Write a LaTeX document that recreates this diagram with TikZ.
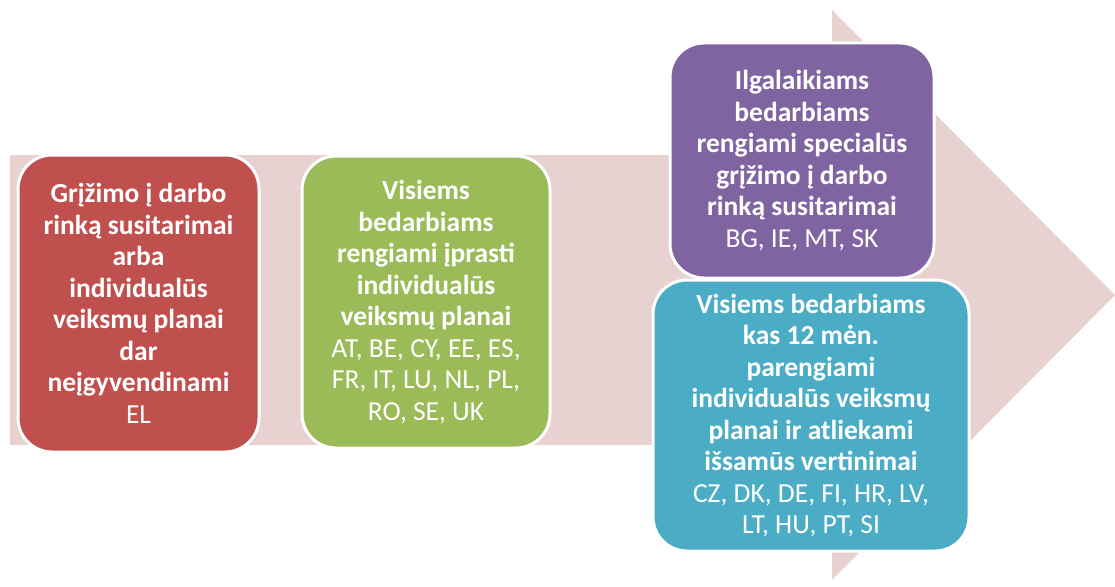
\documentclass[tikz,border=0pt]{standalone}
\usepackage{fontspec}
\setmainfont{Carlito}
\definecolor{arrowpink}{HTML}{E8D1D1}
\definecolor{boxred}{HTML}{C0504D}
\definecolor{boxgreen}{HTML}{9BBB59}
\definecolor{boxpurple}{HTML}{8064A2}
\definecolor{boxblue}{HTML}{4BACC6}
\tikzset{
  stepbox/.style={draw=white, line width=3pt, rounded corners=34pt, text=white,
    align=center, inner sep=0pt,
    font=\fontsize{27.5}{31.5}\selectfont},
}
\begin{document}
\begin{tikzpicture}[x=1pt, y=-1pt]
  \useasboundingbox (0,0) rectangle (1115,586);

  \fill[arrowpink] (10,155) -- (832,155) -- (832,10) -- (1115,295)
    -- (832,580) -- (832,445) -- (10,445) -- cycle;

  \node[stepbox, fill=boxred, minimum width=241pt, minimum height=297pt] (red) at (138.5,303.5)
    {\bfseries Grįžimo į darbo\\ \bfseries rinką susitarimai\\ \bfseries arba\\ \bfseries individualūs\\
     \bfseries veiksmų planai\\ \bfseries dar\\ \bfseries neįgyvendinami\\ EL};
  \node[stepbox, fill=boxgreen, minimum width=248pt, minimum height=292pt] (green) at (426,302)
    {\bfseries Visiems\\ \bfseries bedarbiams\\ \bfseries rengiami įprasti\\ \bfseries individualūs\\
     \bfseries veiksmų planai\\ AT, BE, CY, EE, ES,\\ FR, IT, LU, NL, PL,\\ RO, SE, UK};
  \node[stepbox, fill=boxpurple, minimum width=264pt, minimum height=235pt] (purple) at (802,160.5)
    {\bfseries Ilgalaikiams\\ \bfseries bedarbiams\\ \bfseries rengiami specialūs\\
     \bfseries grįžimo į darbo\\ \bfseries rinką susitarimai\\ BG, IE, MT, SK};
  \node[stepbox, fill=boxblue, minimum width=316pt, minimum height=271pt] (blue) at (811,415.5)
    {\bfseries Visiems bedarbiams\\ \bfseries kas 12 mėn.\\ \bfseries parengiami\\
     \bfseries individualūs veiksmų\\ \bfseries planai ir atliekami\\ \bfseries išsamūs vertinimai\\
     CZ, DK, DE, FI, HR, LV,\\ LT, HU, PT, SI};
\end{tikzpicture}
\end{document}
